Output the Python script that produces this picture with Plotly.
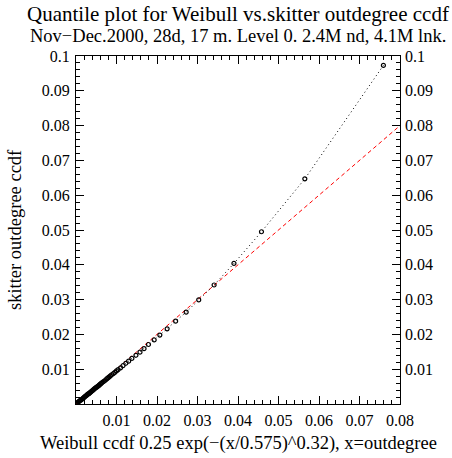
import plotly.graph_objects as go

# Quantile points: x = Weibull ccdf quantile, y = skitter outdegree ccdf quantile
weibull_q = [0.0759, 0.0565, 0.0458, 0.0390, 0.0341, 0.0303, 0.0272, 0.0246,
             0.0225, 0.0207, 0.0193, 0.0179, 0.0168, 0.0158, 0.0148,
             0.0138, 0.0130, 0.0123, 0.0116, 0.0110, 0.0104, 0.0100, 0.0096,
             0.0092, 0.0088, 0.0085, 0.0082, 0.0079, 0.0076, 0.0073, 0.0070,
             0.0067, 0.0064, 0.0062, 0.0060, 0.0058, 0.0056, 0.0054, 0.0052,
             0.0050, 0.0048, 0.0046, 0.0044, 0.0042, 0.0040, 0.0038, 0.0036,
             0.0034, 0.0032, 0.0030, 0.0028, 0.0026, 0.0024, 0.0022, 0.0020,
             0.0018, 0.0016, 0.0014, 0.0012, 0.0010, 0.0008, 0.0006, 0.0004,
             0.0002, 0.0001]
skitter_q = [0.0973, 0.0647, 0.0495, 0.0404, 0.0342, 0.0299, 0.0264, 0.0238,
             0.0216, 0.0198, 0.0184, 0.0171, 0.0159, 0.0149, 0.0140,
             0.0131, 0.0123, 0.0117, 0.0110, 0.0104, 0.0099, 0.0095, 0.0091,
             0.0087, 0.0084, 0.0081, 0.0078, 0.0075, 0.0072, 0.0069, 0.0066,
             0.0064, 0.0061, 0.0059, 0.0057, 0.0055, 0.0053, 0.0051, 0.0049,
             0.0048, 0.0046, 0.0044, 0.0042, 0.0040, 0.0038, 0.0036, 0.0034,
             0.0032, 0.0030, 0.0029, 0.0027, 0.0025, 0.0023, 0.0021, 0.0019,
             0.0017, 0.0015, 0.0013, 0.0011, 0.0010, 0.0008, 0.0006, 0.0004,
             0.0002, 0.0001]
diag_x = [0.0, 0.08]
diag_y = [0.0, 0.08]
x_ticks = [0.01, 0.02, 0.03, 0.04, 0.05, 0.06, 0.07, 0.08]
y_ticks = [0.01, 0.02, 0.03, 0.04, 0.05, 0.06, 0.07, 0.08, 0.09, 0.1]

FONT = "Liberation Serif"
TICK_SIZE = 16

fig = go.Figure()
fig.add_trace(go.Scatter(x=diag_x, y=diag_y, mode="lines",
                         line=dict(color="red", width=1, dash="4px,3px"),
                         showlegend=False, hoverinfo="skip"))
fig.add_trace(go.Scatter(x=weibull_q, y=skitter_q, mode="lines+markers",
                         line=dict(color="black", width=1, dash="1px,3px"),
                         marker=dict(symbol="circle-open", size=4, color="black",
                                     line=dict(width=1.2, color="black")),
                         showlegend=False))
fig.add_trace(go.Scatter(x=[None], y=[None], yaxis="y2", showlegend=False,
                         hoverinfo="skip"))

axis_common = dict(showgrid=False, zeroline=False, showline=True, linecolor="black",
                   linewidth=1, ticks="inside", ticklen=8, tickwidth=1,
                   tickcolor="black", mirror="ticks",
                   tickfont=dict(family=FONT, size=TICK_SIZE, color="black"),
                   minor=dict(ticks="inside", ticklen=4, tickwidth=1,
                              tickcolor="black", dtick=0.002, showgrid=False))

fig.update_layout(
    width=452, height=458,
    margin=dict(l=76, r=52, t=56, b=54),
    plot_bgcolor="white", paper_bgcolor="white",
    font=dict(family=FONT, color="black"),
    xaxis=dict(range=[0, 0.08], tickvals=x_ticks, ticktext=[f"{v:g}" for v in x_ticks],
               ticklabelstandoff=2, **axis_common),
    yaxis=dict(range=[0, 0.1], tickvals=y_ticks, ticktext=[f"{v:g}" for v in y_ticks],
               ticklabelstandoff=2, **axis_common),
    yaxis2=dict(range=[0, 0.1], overlaying="y", side="right", tickvals=y_ticks,
                ticktext=[f"{v:g}" for v in y_ticks], showgrid=False, zeroline=False,
                showline=False, ticks="", ticklabelstandoff=4,
                tickfont=dict(family=FONT, size=TICK_SIZE, color="black")),
    annotations=[
        dict(text="Quantile plot for Weibull vs.skitter outdegree ccdf",
             x=0.5, xref="paper", y=14, yref="paper", showarrow=False,
             font=dict(family=FONT, size=21, color="black")),
        dict(text="Nov\u2212Dec.2000, 28d, 17 m. Level 0. 2.4M nd, 4.1M lnk.",
             x=0.5, xref="paper", y=36, yref="paper", showarrow=False,
             font=dict(family=FONT, size=18.5, color="black")),
        dict(text="Weibull ccdf 0.25 exp(\u2212(x/0.575)^0.32), x=outdegree",
             x=0.5, xref="paper", y=443, yref="paper", showarrow=False,
             font=dict(family=FONT, size=18.5, color="black")),
        dict(text="skitter outdegree ccdf", textangle=-90,
             x=15, y=0.5, xref="paper", yref="paper", showarrow=False,
             font=dict(family=FONT, size=18.5, color="black")),
    ],
)

# convert pixel positions of annotations to paper coords
pw, ph = 452 - 76 - 52, 458 - 56 - 54
anns = list(fig.layout.annotations)
for a in anns:
    if a.textangle == -90:
        a.x = (a.x - 76) / pw
        a.xanchor = "center"
    else:
        a.y = (458 - 54 - a.y) / ph
        a.yanchor = "middle"
fig.layout.annotations = anns

fig.write_html("out.html")
